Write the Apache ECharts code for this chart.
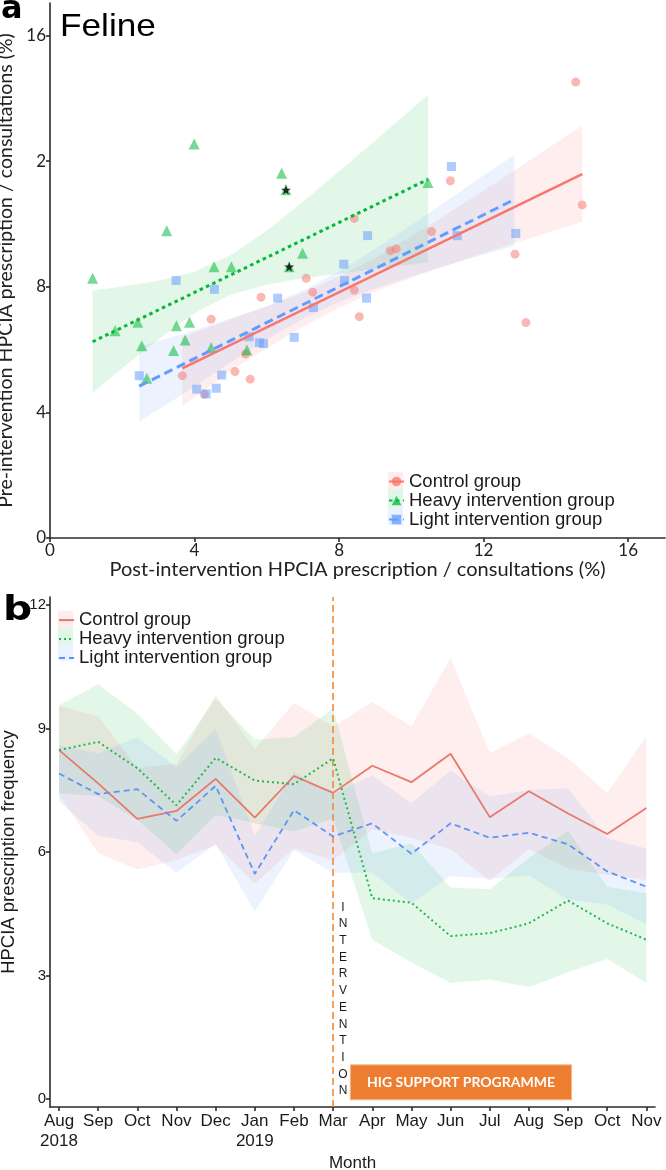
<!DOCTYPE html>
<html><head><meta charset="utf-8">
<script src="https://cdn.jsdelivr.net/npm/echarts@6/dist/echarts.min.js"></script>
<style>html,body{margin:0;padding:0;background:#fff}#c{width:666px;height:1170px}</style>
</head><body><div id="c"></div>
<script>
// ---------- Panel a : scatter (post vs pre) ----------
const ctrlPostA = [8.42,7.09,7.27,8.42,8.56,5.84,4.46,5.41,3.66,5.12,5.54,4.27,14.55,11.08,14.73,10.56,9.42,9.58,12.87,13.17];
const ctrlPreA  = [10.18,8.27,7.83,7.9,7.05,7.67,6.97,5.86,5.17,5.3,5.06,4.58,14.52,11.38,10.61,9.76,9.15,9.21,9.04,6.86];
const heavyPostA = [3.99,6.41,6.53,3.23,6.99,4.54,5.02,6.62,1.18,1.8,2.43,2.54,2.68,3.42,3.5,3.86,3.74,4.46,5.45,10.46];
const heavyPreA  = [12.55,11.62,11.09,9.79,9.07,8.64,8.64,8.64,8.27,6.6,6.87,6.12,5.09,5.97,6.76,6.87,6.31,6.07,5.99,11.32];
const lightPostA = [3.49,4.55,6.3,8.13,8.15,7.29,5.51,5.8,5.91,6.76,2.47,4.75,4.06,4.6,4.32,11.11,8.79,11.27,12.89,8.76];
const lightPreA  = [8.2,7.92,7.64,8.72,8.2,7.34,6.41,6.22,6.19,6.39,5.17,5.19,4.74,4.77,4.59,11.83,9.63,9.63,9.7,7.64];
const starPostA = [6.53,6.62];
const starPreA  = [11.09,8.64];
// fitted lines
const fitCtrlX = [3.66,14.73],  fitCtrlY = [5.4,11.59];
const fitHeavyX = [1.18,10.46], fitHeavyY = [6.25,11.42];
const fitLightX = [2.47,12.85], fitLightY = [4.84,10.78];
// confidence bands
const bandCtrlX  = [3.66,5,6,7,8,9,10,11,12,13,14.73];
const bandCtrlHi = [6.4,6.97,7.37,7.81,8.33,8.93,9.61,10.33,11.07,11.82,13.13];
const bandCtrlLo = [4.2,5.33,6.05,6.73,7.33,7.85,8.29,8.69,9.07,9.44,10.07];
const bandHeavyX  = [1.18,2,3,4,5,6,7,8,9,10.46];
const bandHeavyHi = [7.88,8.01,8.19,8.48,9.01,9.79,10.71,11.68,12.66,14.12];
const bandHeavyLo = [4.62,5.41,6.33,7.16,7.75,8.07,8.27,8.42,8.56,8.78];
const bandLightX  = [2.47,4,5,6,7,8,9,10,11,12,12.85];
const bandLightHi = [6.1,6.62,6.99,7.39,7.88,8.5,9.21,9.97,10.75,11.55,12.2];
const bandLightLo = [3.7,4.82,5.59,6.33,6.98,7.52,7.95,8.33,8.69,9.03,9.3];
const xTickValsA = [0,4,8,12,16];
const xTickLabelsA = ['0','4','8','12','16'];
const yTickValsA = [0,4,8,12,16];
const yTickLabelsA = ['0','4','8','2','16'];

// ---------- Panel b : monthly series ----------
const months = ['Aug\n2018','Sep','Oct','Nov','Dec','Jan\n2019','Feb','Mar','Apr','May','Jun','Jul','Aug','Sep','Oct','Nov'];
const ctrlB   = [8.48,7.67,6.81,7.0,7.78,6.84,7.85,7.44,8.1,7.7,8.39,6.85,7.48,6.94,6.44,7.07];
const ctrlBHi = [9.55,9.3,8.05,8.15,9.82,8.5,9.63,9.05,9.65,9.05,10.71,8.4,8.89,8.28,7.43,8.82];
const ctrlBLo = [7.4,5.97,5.58,5.81,6.17,5.24,6.09,5.8,6.55,6.35,6.07,5.3,6.07,5.6,5.45,5.32];
const heavyB   = [8.48,8.68,8.04,7.14,8.29,7.74,7.65,8.28,4.88,4.77,3.96,4.03,4.27,4.82,4.27,3.87];
const heavyBHi = [9.57,10.08,9.37,8.38,9.73,8.74,8.8,9.49,5.97,6.21,5.14,5.1,5.86,6.52,5.16,5.0];
const heavyBLo = [7.43,7.36,6.78,5.95,6.9,6.7,6.5,6.82,3.87,3.32,2.82,2.9,2.72,3.08,3.4,2.82];
const lightB   = [7.91,7.41,7.53,6.76,7.61,5.47,7.02,6.38,6.7,5.96,6.7,6.35,6.47,6.19,5.53,5.16];
const lightBHi = [8.6,8.4,8.79,8.07,9.0,6.4,7.95,7.4,7.87,7.19,7.98,7.35,7.51,7.55,6.34,6.09];
const lightBLo = [7.23,6.4,6.24,5.5,6.2,4.55,6.05,5.5,5.5,4.75,5.42,5.35,5.43,4.85,4.72,4.25];
const yTickValsB = [0,3,6,9,12];
const interventionAt = 7;            // month index of March 2019
const higBox = [7.44, 13.09, -0.02, 0.83]; // x from, x to, y from, y to

const names = ['Control group','Heavy intervention group','Light intervention group'];
const idx = months.map((m,i)=>i);
const zip = (a,b)=>a.map((v,i)=>[v,b[i]]);

function band(xAxisIndex, yAxisIndex, xs, lo, hi, fill) {
  return {
    type:'custom', xAxisIndex, yAxisIndex, silent:true, z:1,
    data: xs.map((x,i)=>[x, lo[i], hi[i]]),
    encode:{x:0, y:[1,2]},
    renderItem: function(params, api){
      if (params.dataIndex !== 0) return null;
      const pts = [];
      for (let i=0;i<xs.length;i++) pts.push(api.coord([xs[i], hi[i]]));
      for (let i=xs.length-1;i>=0;i--) pts.push(api.coord([xs[i], lo[i]]));
      return {type:'polygon', shape:{points:pts}, style:{fill:fill}};
    }
  };
}

const RED='#F8766D', GREEN='#00BA38', BLUE='#619CFF';
const RED_B='#E8786B', GREEN_B='#21B847', BLUE_B='#5E94F2';
const axisLineStyle = {color:'#2b2b2b', width:1.6};

const chart = echarts.init(document.getElementById('c'), null, {renderer:'canvas'});
const option = {
  animation:false,
  backgroundColor:'#fff',
  grid:[
    {left:50, top:3, width:615, height:535, containLabel:false, outerBoundsMode:'none'},
    {left:50, top:597, width:605, height:510, containLabel:false, outerBoundsMode:'none'}
  ],
  xAxis:[
    {type:'value', gridIndex:0, min:0, max:17.02,
     axisLine:{show:true, onZero:false, lineStyle:axisLineStyle},
     axisTick:{show:true, customValues:xTickValsA, length:4, lineStyle:axisLineStyle},
     axisLabel:{customValues:xTickValsA, formatter:v=>xTickLabelsA[xTickValsA.indexOf(v)], color:'#222', fontFamily:'Lato', fontSize:17, margin:4},
     splitLine:{show:false},
     name:'Post-intervention HPCIA prescription / consultations (%)', nameLocation:'middle', nameGap:22,
     nameTextStyle:{fontFamily:'Lato', fontSize:20, color:'#222'}},
    {type:'value', gridIndex:1, min:-0.23, max:15.22,
     axisLine:{show:true, onZero:false, lineStyle:axisLineStyle},
     axisTick:{show:true, customValues:idx, length:4, lineStyle:axisLineStyle},
     axisLabel:{customValues:idx, formatter:v=>months[v], color:'#1a1a1a', fontFamily:'Liberation Sans', fontSize:17, lineHeight:19.5, margin:5},
     splitLine:{show:false},
     name:'Month', nameLocation:'middle', nameGap:48,
     nameTextStyle:{fontFamily:'Liberation Sans', fontSize:17, color:'#1a1a1a'}}
  ],
  yAxis:[
    {type:'value', gridIndex:0, min:0, max:17.04,
     axisLine:{show:true, onZero:false, lineStyle:axisLineStyle},
     axisTick:{show:true, customValues:yTickValsA, length:4, lineStyle:axisLineStyle},
     axisLabel:{customValues:yTickValsA, formatter:v=>yTickLabelsA[yTickValsA.indexOf(v)], color:'#222', fontFamily:'Lato', fontSize:17, margin:4},
     splitLine:{show:false},
     name:'Pre-intervention HPCIA prescription / consultations (%)', nameLocation:'middle', nameGap:28,
     nameTextStyle:{fontFamily:'Lato', fontSize:19.5, color:'#222'}},
    {type:'value', gridIndex:1, min:-0.194, max:12.2,
     axisLine:{show:true, onZero:false, lineStyle:axisLineStyle},
     axisTick:{show:true, customValues:yTickValsB, length:4, lineStyle:axisLineStyle},
     axisLabel:{customValues:yTickValsB, color:'#1a1a1a', fontFamily:'Liberation Sans', fontSize:15, margin:4},
     splitLine:{show:false},
     name:'HPCIA prescription frequency', nameLocation:'middle', nameGap:28,
     nameTextStyle:{fontFamily:'Liberation Sans', fontSize:18.5, color:'#1a1a1a'}}
  ],
  legend:[
    {data:names.map(n=>'a|'+n), orient:'vertical', left:388, top:472, padding:0,
     itemWidth:15, itemHeight:12, itemGap:0, selectedMode:false,
     formatter:n=>n.slice(2),
     textStyle:{fontFamily:'Liberation Sans', fontSize:18.5, color:'#1a1a1a', lineHeight:17.8}},
    {data:names.map(n=>'b|'+n), orient:'vertical', left:58, top:610.6, padding:0,
     itemWidth:15, itemHeight:12, itemGap:0, selectedMode:false,
     itemStyle:{opacity:0},
     formatter:n=>n.slice(2),
     textStyle:{fontFamily:'Liberation Sans', fontSize:18.5, color:'#1a1a1a', lineHeight:16.75}}
  ],
  graphic:[
    {type:'rect', z:0, shape:{x:388, y:472, width:15, height:17.8}, style:{fill:'rgba(248,118,109,0.13)'}},
    {type:'rect', z:0, shape:{x:388, y:489.8, width:15, height:17.8}, style:{fill:'rgba(0,186,56,0.12)'}},
    {type:'rect', z:0, shape:{x:388, y:507.6, width:15, height:17.8}, style:{fill:'rgba(97,156,255,0.13)'}},
    {type:'rect', z:0, shape:{x:58, y:610.6, width:15, height:16.75}, style:{fill:'rgba(248,118,109,0.13)'}},
    {type:'rect', z:0, shape:{x:58, y:627.35, width:15, height:16.75}, style:{fill:'rgba(0,186,56,0.12)'}},
    {type:'rect', z:0, shape:{x:58, y:644.1, width:15, height:16.75}, style:{fill:'rgba(97,156,255,0.13)'}},
    {type:'text', z:10, style:{text:'a', x:1, y:26, font:'bold 32px "DejaVu Sans"', fill:'#000', textVerticalAlign:'bottom', verticalAlign:'alphabetic'}},
    {type:'text', z:10, x:60, y:27, scaleX:1.1, style:{text:'Feline', x:0, y:0, font:'32px "Liberation Sans"', fill:'#000', verticalAlign:'middle'}},
    {type:'text', z:10, x:3, y:611, scaleX:1.2, style:{text:'b', x:0, y:0, font:'bold 34px "DejaVu Sans"', fill:'#000', verticalAlign:'middle'}},
    {type:'text', z:10, style:{text:'INTERVENTION'.split('').join('\n'), x:343, y:899, font:'12px "Liberation Sans"', lineHeight:16.7, fill:'#1a1a1a', align:'center', verticalAlign:'top'}}
  ],
  series:[
    band(0,0,bandCtrlX,bandCtrlLo,bandCtrlHi,'rgba(248,118,109,0.12)'),
    band(0,0,bandHeavyX,bandHeavyLo,bandHeavyHi,'rgba(0,186,56,0.11)'),
    band(0,0,bandLightX,bandLightLo,bandLightHi,'rgba(97,156,255,0.12)'),
    {type:'scatter', xAxisIndex:0, yAxisIndex:0, silent:true, z:3, symbol:'circle', symbolSize:9,
     data:zip(ctrlPostA,ctrlPreA), itemStyle:{color:'rgba(248,118,109,0.65)'}},
    {type:'scatter', xAxisIndex:0, yAxisIndex:0, silent:true, z:3, symbol:'triangle', symbolSize:11,
     data:zip(heavyPostA,heavyPreA), itemStyle:{color:'rgba(0,186,56,0.67)'}},
    {type:'scatter', xAxisIndex:0, yAxisIndex:0, silent:true, z:3, symbol:'rect', symbolSize:9,
     data:zip(lightPostA,lightPreA), itemStyle:{color:'rgba(97,156,255,0.65)'}},
    {type:'scatter', xAxisIndex:0, yAxisIndex:0, silent:true, z:6,
     symbol:'path://M50,0 L61,35 L98,35 L68,57 L79,91 L50,70 L21,91 L32,57 L2,35 L39,35 Z', symbolSize:10,
     data:zip(starPostA,starPreA), itemStyle:{color:'#000'}},
    {type:'line', name:'a|'+names[0], xAxisIndex:0, yAxisIndex:0, silent:true, z:5,
     data:zip(fitCtrlX,fitCtrlY), symbol:'circle', showSymbol:false, color:RED,
     lineStyle:{color:RED, width:2.5}, itemStyle:{color:'rgba(248,118,109,0.75)'}},
    {type:'line', name:'a|'+names[1], xAxisIndex:0, yAxisIndex:0, silent:true, z:5,
     data:zip(fitHeavyX,fitHeavyY), symbol:'triangle', showSymbol:false, color:GREEN,
     lineStyle:{color:GREEN, width:3, type:[3.5,3.5]}, itemStyle:{color:'rgba(0,186,56,0.75)'}},
    {type:'line', name:'a|'+names[2], xAxisIndex:0, yAxisIndex:0, silent:true, z:5,
     data:zip(fitLightX,fitLightY), symbol:'rect', showSymbol:false, color:BLUE,
     lineStyle:{color:BLUE, width:3, type:[9,5]}, itemStyle:{color:'rgba(97,156,255,0.75)'}},
    // panel b
    band(1,1,idx,ctrlBLo,ctrlBHi,'rgba(248,118,109,0.12)'),
    band(1,1,idx,heavyBLo,heavyBHi,'rgba(0,186,56,0.11)'),
    band(1,1,idx,lightBLo,lightBHi,'rgba(97,156,255,0.12)'),
    {type:'line', name:'b|'+names[0], xAxisIndex:1, yAxisIndex:1, silent:true, z:5, color:RED_B,
     data:zip(idx,ctrlB), symbol:'none', lineStyle:{color:RED_B, width:1.8},
     markLine:{silent:true, symbol:'none', label:{show:false}, data:[{xAxis:interventionAt}],
       lineStyle:{color:'#F28A36', width:1.6, type:[7,4]}},
     markArea:{silent:true, data:[[{xAxis:higBox[0], yAxis:higBox[2], name:'HIG SUPPORT PROGRAMME'},{xAxis:higBox[1], yAxis:higBox[3]}]],
       itemStyle:{color:'#ED7D31', opacity:1, borderColor:'#F7B98C', borderWidth:1},
       label:{show:true, position:'inside', color:'#fff', fontFamily:'Lato', fontWeight:'bold', fontSize:14}}},
    {type:'line', name:'b|'+names[1], xAxisIndex:1, yAxisIndex:1, silent:true, z:5, color:GREEN_B,
     data:zip(idx,heavyB), symbol:'none', lineStyle:{color:GREEN_B, width:2, type:[2,3]}},
    {type:'line', name:'b|'+names[2], xAxisIndex:1, yAxisIndex:1, silent:true, z:5, color:BLUE_B,
     data:zip(idx,lightB), symbol:'none', lineStyle:{color:BLUE_B, width:1.8, type:[6,4]}}
  ]
};
chart.setOption(option);
</script>
</body></html>
